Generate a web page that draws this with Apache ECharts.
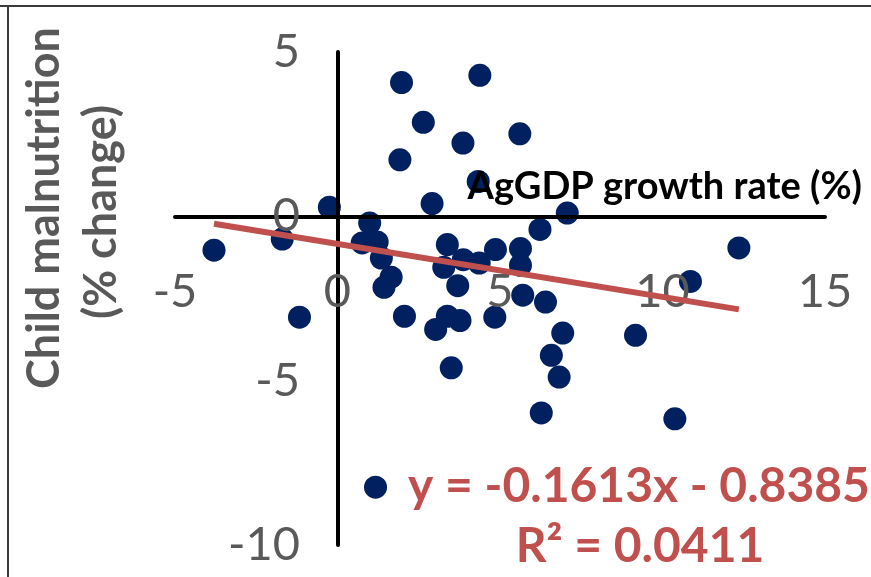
<!DOCTYPE html>
<html>
<head>
<meta charset="utf-8">
<script src="https://cdn.jsdelivr.net/npm/echarts@6/dist/echarts.min.js"></script>
<style>
html,body{margin:0;padding:0;background:#fff;}
#chart{width:871px;height:577px;}
</style>
</head>
<body>
<div id="chart"></div>
<script>
// AgGDP growth rate (%) values
var agGdpGrowth = [-3.80, -1.70, -0.25, -1.17, 0.99, 0.76, 1.22, 1.35, 1.65, 1.43, 2.06,
  2.91, 3.38, 3.27, 3.87, 4.36, 4.86, 3.70, 5.63, 5.63, 5.70, 6.23, 7.07, 6.40,
  3.38, 3.77, 3.02, 4.84, 6.93, 9.17, 12.35, 10.86, 1.97, 4.38, 2.64, 3.86, 5.61,
  1.92, 4.33, 3.50, 6.58, 6.82, 6.27, 10.38, 1.17];
// Child malnutrition (% change) values
var malnutritionChange = [-1.03, -0.69, 0.28, -3.07, -0.20, -0.81, -0.78, -1.27, -1.85, -2.16, -3.04,
  0.39, -0.86, -1.55, -1.32, -1.42, -1.01, -2.11, -0.98, -1.49, -2.40, -0.40, 0.10, -2.61,
  -3.04, -3.17, -3.44, -3.07, -3.55, -3.62, -0.96, -1.98, 4.07, 4.29, 2.86, 2.23, 2.51,
  1.72, 1.06, -4.61, -4.23, -4.89, -5.98, -6.16, -8.24];
// Linear trendline end points (as drawn)
var trendX = [-3.80, 12.35];
var trendY = [-0.225, -2.830];
// Axis ticks
var xTicks = [-5, 0, 5, 10, 15];
var yTicks = [-10, -5, 0, 5];
// Texts
var xTitle = 'AgGDP growth rate (%)';
var yTitleLines = ['Child malnutrition', '(% change)'];
var equationText = 'y = -0.1613x - 0.8385';
var r2Text = 'R\u00B2 = 0.0411';

var scatterData = agGdpGrowth.map(function (x, i) { return [x, malnutritionChange[i]]; });
var trendData = trendX.map(function (x, i) { return [x, trendY[i]]; });

var FONT = 'Lato, "Open Sans", sans-serif';
var chart = echarts.init(document.getElementById('chart'), null, {renderer: 'canvas'});
chart.setOption({
  backgroundColor: '#ffffff',
  animation: false,
  grid: {left: 175, right: 46, top: 52, bottom: 32, containLabel: false, outerBoundsMode: 'none'},
  xAxis: {
    type: 'value',
    min: xTicks[0], max: xTicks[xTicks.length - 1], interval: 5,
    z: 3,
    axisLine: {onZero: true, lineStyle: {color: '#000000', width: 4}},
    axisTick: {show: false},
    splitLine: {show: false},
    axisLabel: {color: '#595959', fontSize: 47, fontFamily: FONT, margin: -277}
  },
  yAxis: {
    type: 'value',
    min: yTicks[0], max: yTicks[yTicks.length - 1], interval: 5,
    z: 3,
    axisLine: {onZero: true, lineStyle: {color: '#000000', width: 4}},
    axisTick: {show: false},
    splitLine: {show: false},
    axisLabel: {color: '#595959', fontSize: 47, fontFamily: FONT, margin: -125}
  },
  series: [
    {
      type: 'scatter',
      data: scatterData,
      symbol: 'circle',
      symbolSize: 23,
      itemStyle: {color: '#002060', opacity: 1},
      z: 2
    },
    {
      type: 'line',
      data: trendData,
      showSymbol: false,
      symbol: 'none',
      lineStyle: {color: '#C0504D', width: 6, opacity: 1},
      z: 4
    }
  ],
  graphic: [
    {type: 'line', shape: {x1: 0, y1: 6, x2: 871, y2: 6}, style: {stroke: '#3a3a3a', lineWidth: 2}, z: 10},
    {type: 'line', shape: {x1: 8, y1: 6, x2: 8, y2: 577}, style: {stroke: '#3a3a3a', lineWidth: 2}, z: 10},
    {type: 'text', x: 862, y: 187, z: 10,
      style: {text: xTitle, fill: '#000000', font: 'bold 38px ' + FONT, textAlign: 'right', textVerticalAlign: 'middle'}},
    {type: 'text', x: 44, y: 208, rotation: Math.PI / 2, z: 10,
      style: {text: yTitleLines[0], fill: '#595959', font: 'bold 45px ' + FONT, textAlign: 'center', textVerticalAlign: 'middle'}},
    {type: 'text', x: 101, y: 212, rotation: Math.PI / 2, z: 10,
      style: {text: yTitleLines[1], fill: '#595959', font: 'bold 45px ' + FONT, textAlign: 'center', textVerticalAlign: 'middle'}},
    {type: 'text', x: 639, y: 487, z: 10,
      style: {text: equationText, fill: '#C0504D', font: 'bold 48px ' + FONT, textAlign: 'center', textVerticalAlign: 'middle'}},
    {type: 'text', x: 640, y: 547, z: 10,
      style: {text: r2Text, fill: '#C0504D', font: 'bold 48px ' + FONT, textAlign: 'center', textVerticalAlign: 'middle'}}
  ]
});
</script>
</body>
</html>
